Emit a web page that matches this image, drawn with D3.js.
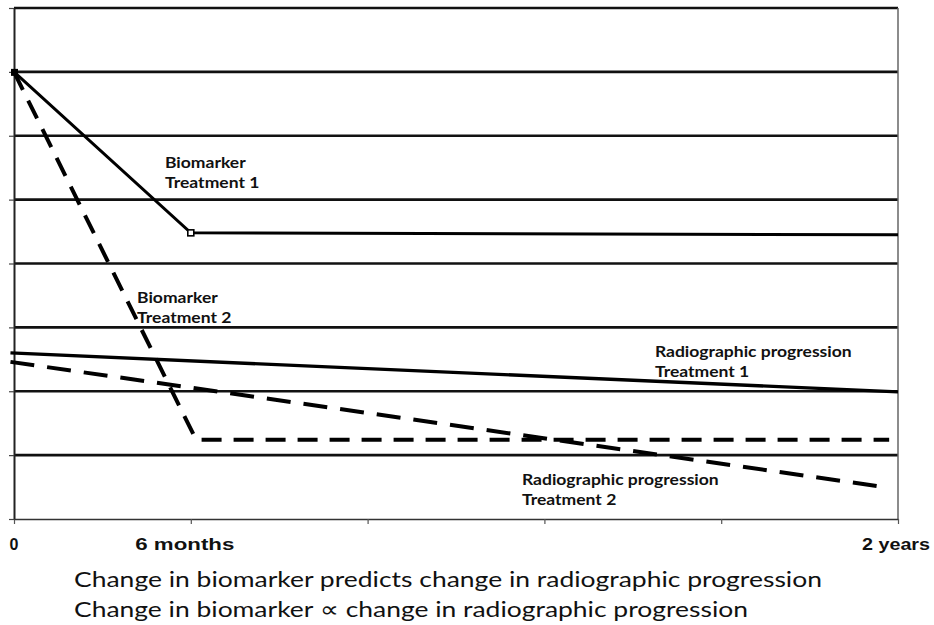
<!DOCTYPE html>
<html>
<head>
<meta charset="utf-8">
<script src="https://cdn.jsdelivr.net/npm/d3@7"></script>
<style>
  html, body { margin: 0; padding: 0; background: #fff; }
  svg { display: block; }
</style>
</head>
<body>
<svg id="chart" width="934" height="625"></svg>
<script>
// ---- data ----
const xTickValues = [0, 1, 2, 3, 4, 5];
const xTickLabels = ["0", "6 months", "", "", "", "2 years"];
const yGridValues = [1, 2, 3, 4, 5, 6, 7, 8];

const biomarkerT1 = [[0, 7.0], [1, 4.48], [5, 4.45]];
const biomarkerT2 = [[0, 7.0], [1.03, 1.24], [4.95, 1.24]];
const radioT1 = [[-0.02, 2.6], [5, 1.99]];
const radioT2 = [[-0.02, 2.46], [4.95, 0.49]];

const annotations = [
  { x: 0.854, y: 5.5, lines: ["Biomarker", "Treatment 1"] },
  { x: 0.696, y: 3.38, lines: ["Biomarker", "Treatment 2"] },
  { x: 3.625, y: 2.54, lines: ["Radiographic progression", "Treatment 1"] },
  { x: 2.873, y: 0.53, lines: ["Radiographic progression", "Treatment 2"] }
];
const captions = [
  "Change in biomarker predicts change in radiographic progression",
  "Change in biomarker \u221D change in radiographic progression"
];

// ---- layout ----
const svg = d3.select("#chart");
const x = d3.scaleLinear().domain([0, 5]).range([14, 898]);
const y = d3.scaleLinear().domain([0, 8]).range([519, 8]);

// gridlines
svg.append("g").selectAll("line").data(yGridValues).join("line")
  .attr("x1", x(0)).attr("x2", x(5))
  .attr("y1", d => y(d)).attr("y2", d => y(d))
  .attr("stroke", "#111").attr("stroke-width", 2.6);

// right border
svg.append("line").attr("x1", x(5)).attr("x2", x(5))
  .attr("y1", y(8)).attr("y2", y(0))
  .attr("stroke", "#666").attr("stroke-width", 1.5);

// x axis
const xAxis = d3.axisBottom(x).tickValues(xTickValues).tickFormat("").tickSize(5).tickSizeOuter(0);
const gx = svg.append("g").attr("transform", `translate(0,${y(0)})`).call(xAxis);
gx.select(".domain").attr("stroke", "#333").attr("stroke-width", 1.6);
gx.selectAll(".tick line").attr("stroke", "#555").attr("stroke-width", 1.2);

// y axis
const yAxis = d3.axisLeft(y).tickValues(d3.range(0, 9)).tickFormat("").tickSize(5).tickSizeOuter(0);
const gy = svg.append("g").attr("transform", `translate(${x(0)},0)`).call(yAxis);
gy.select(".domain").attr("stroke", "#222").attr("stroke-width", 2);
gy.selectAll(".tick line").attr("stroke", "#444").attr("stroke-width", 1.2);

// x tick labels (narrow bold, stretched to the reference widths)
svg.append("g").selectAll("text").data(xTickValues.filter((d, i) => xTickLabels[i]))
  .join("text")
  .attr("x", d => x(d) + (d === 1 ? -6 : (d === 5 ? -2 : 0)))
  .attr("y", 550)
  .attr("text-anchor", "middle")
  .attr("font-family", "'Liberation Sans Narrow', 'Liberation Sans', Arial, sans-serif")
  .attr("font-weight", "bold")
  .attr("font-size", 16)
  .attr("fill", "#111")
  .text(d => xTickLabels[xTickValues.indexOf(d)])
  .each(function(d) {
    const target = d === 1 ? 99 : (d === 5 ? 68 : null);
    if (target) d3.select(this).attr("textLength", target).attr("lengthAdjust", "spacingAndGlyphs");
  });

// lines
const line = d3.line().x(d => x(d[0])).y(d => y(d[1]));
function drawSeries(data, dash, width) {
  svg.append("path").datum(data)
    .attr("d", line)
    .attr("fill", "none")
    .attr("stroke", "#000")
    .attr("stroke-width", width)
    .attr("stroke-dasharray", dash)
    .attr("stroke-linejoin", "miter");
}
drawSeries(biomarkerT1, null, 3);
drawSeries(biomarkerT2, "20,12", 4);
drawSeries(radioT1, null, 3.4);
drawSeries(radioT2, "24,13", 4);

// markers
svg.append("rect")
  .attr("x", x(biomarkerT1[1][0]) - 3).attr("y", y(biomarkerT1[1][1]) - 3)
  .attr("width", 6).attr("height", 6)
  .attr("fill", "#fff").attr("stroke", "#000").attr("stroke-width", 1.6);
svg.append("rect")
  .attr("x", x(biomarkerT1[0][0]) - 3).attr("y", y(biomarkerT1[0][1]) - 3)
  .attr("width", 7).attr("height", 7)
  .attr("fill", "#000");

// annotations
const ann = svg.append("g")
  .attr("font-family", "Lato, 'Open Sans', sans-serif")
  .attr("font-weight", "bold")
  .attr("font-size", 15.5)
  .attr("fill", "#111");
annotations.forEach(a => {
  a.lines.forEach((t, i) => {
    const el = ann.append("text")
      .attr("x", x(a.x))
      .attr("y", y(a.y) + i * 20)
      .text(t);
    const w = el.node().getComputedTextLength();
    el.attr("textLength", w * 1.13).attr("lengthAdjust", "spacingAndGlyphs");
  });
});

// captions
const capTargets = [748, 674];
svg.append("g").selectAll("text").data(captions).join("text")
  .attr("x", 74)
  .attr("y", (d, i) => 587 + i * 30)
  .attr("font-family", "Lato, 'Open Sans', sans-serif")
  .attr("font-size", 22)
  .attr("fill", "#111")
  .text(d => d)
  .attr("textLength", (d, i) => capTargets[i])
  .attr("lengthAdjust", "spacingAndGlyphs");
</script>
</body>
</html>
